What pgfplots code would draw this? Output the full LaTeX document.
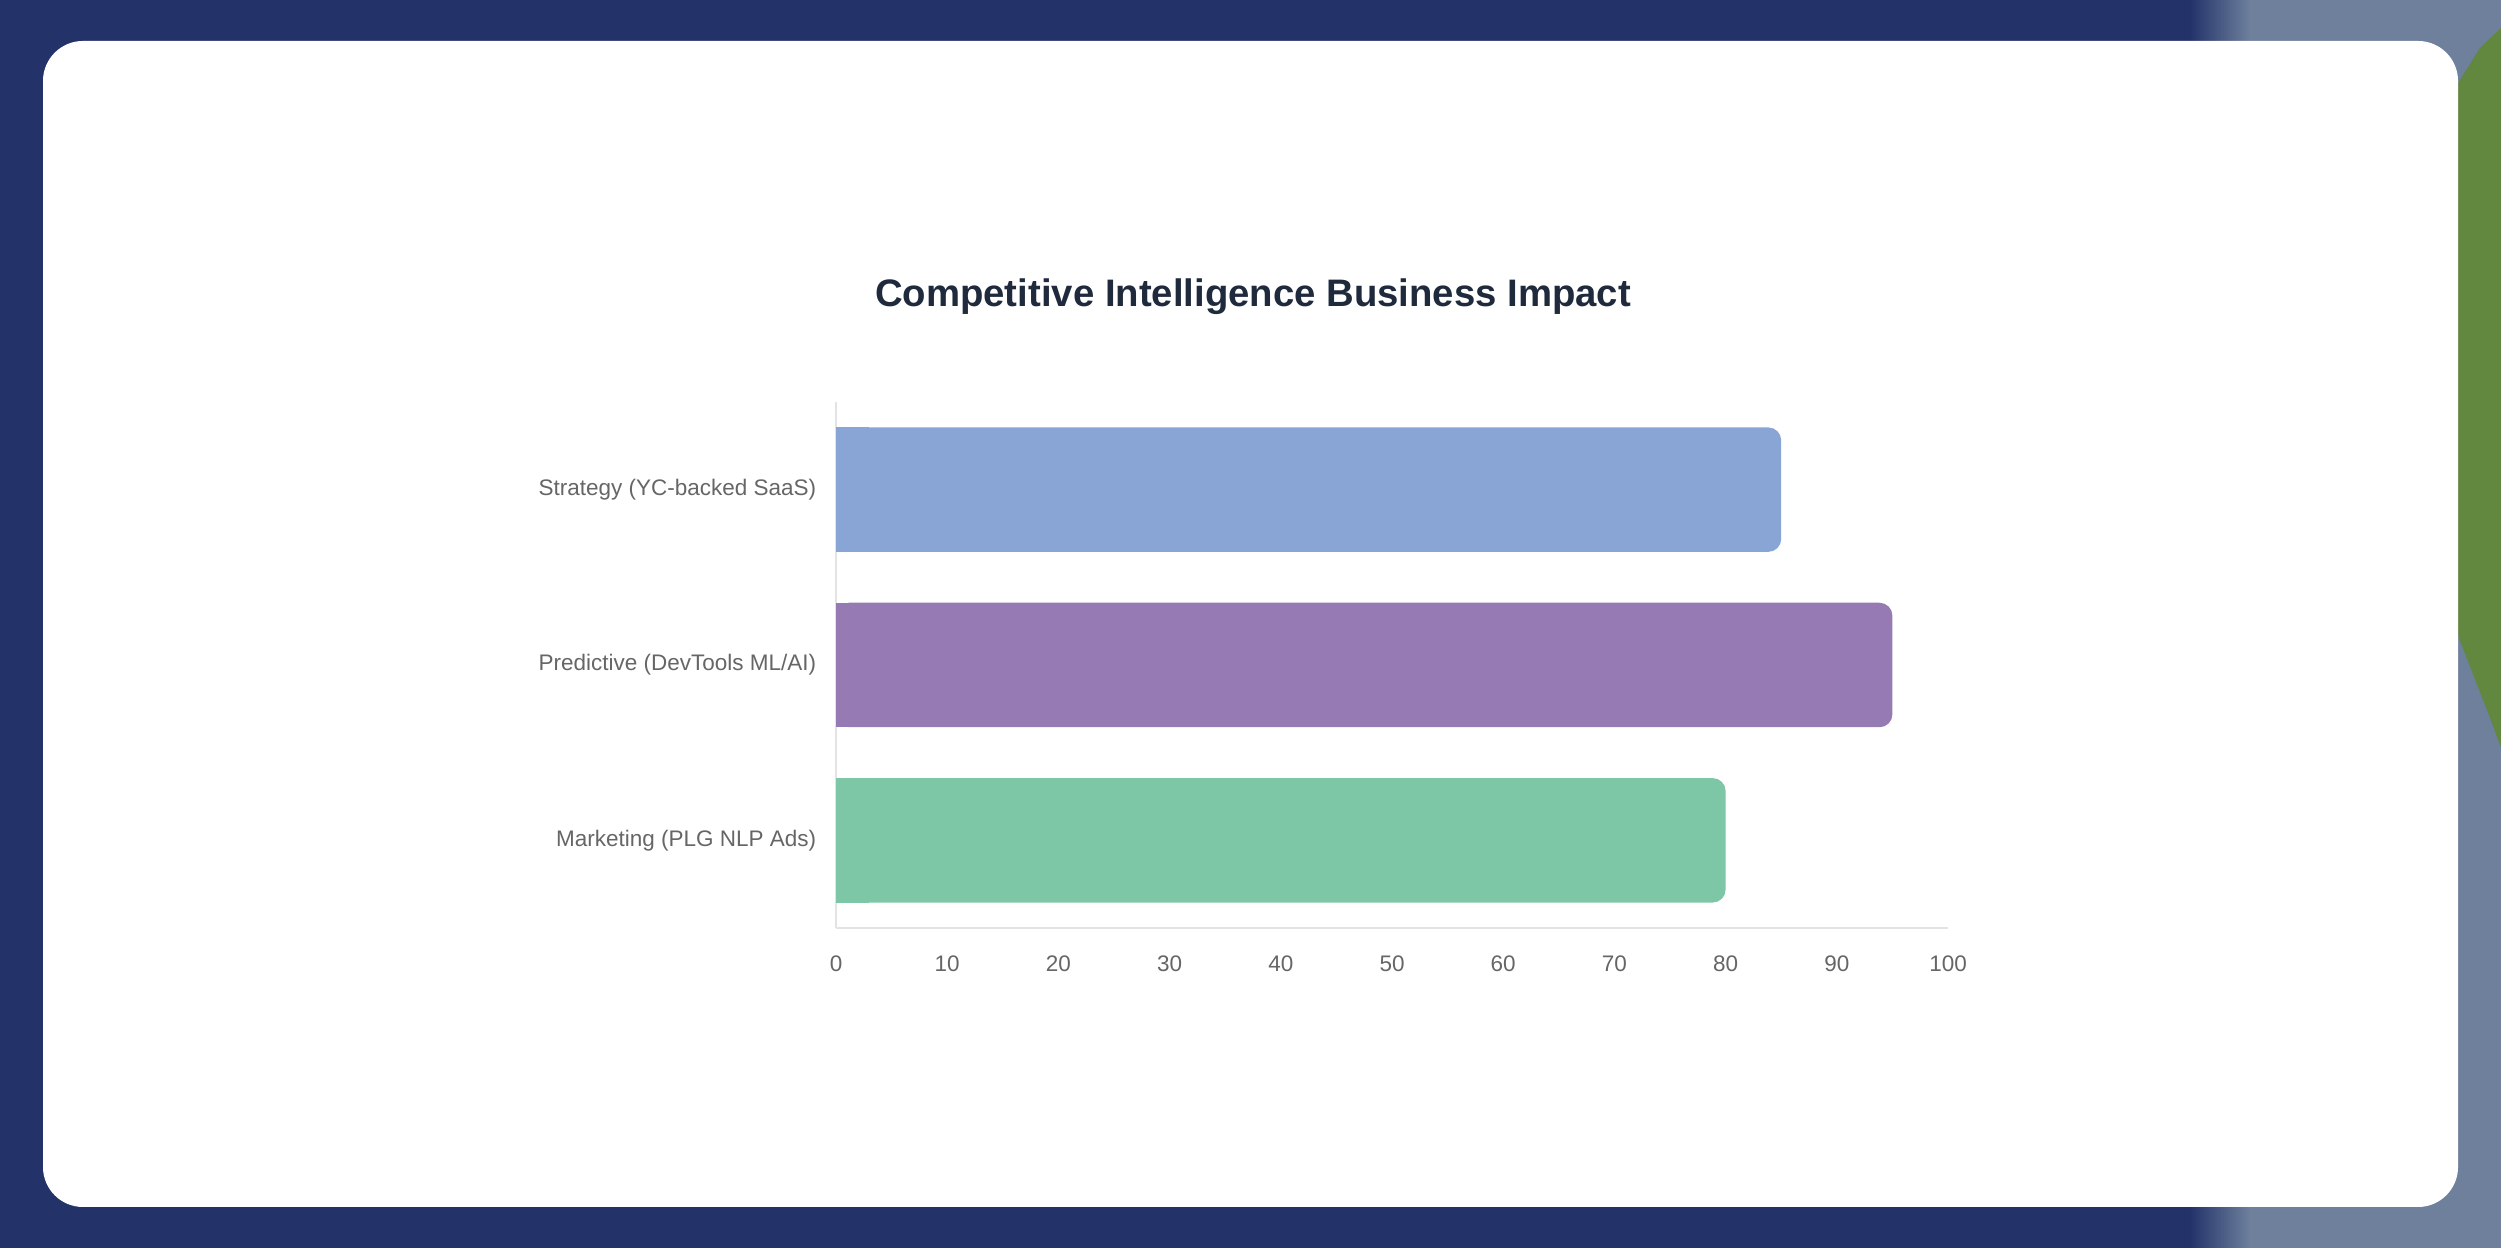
\documentclass[border=0pt]{standalone}
\usepackage{pgfplots}
\pgfplotsset{compat=1.18}
\usepackage{fontspec}
\setmainfont{Liberation Sans}
\definecolor{navy}{HTML}{23336A}
\definecolor{grayblue}{HTML}{6E809C}
\definecolor{leaf}{HTML}{62873F}
\definecolor{cStrat}{HTML}{89A5D5}
\definecolor{cPred}{HTML}{957AB4}
\definecolor{cMark}{HTML}{7DC6A6}
\definecolor{labelgray}{HTML}{666666}
\definecolor{titlecol}{HTML}{1F2A3C}
\definecolor{axisgray}{HTML}{E3E3E3}
\begin{document}
\begin{tikzpicture}[x=1cm,y=1cm]
% background screenshot frame
\fill[navy] (0,0) rectangle (25.01,12.48);
\shade[left color=navy, right color=grayblue] (21.9,0) rectangle (22.5,12.48);
\fill[grayblue] (22.5,0) rectangle (25.01,12.48);
\fill[leaf] (24.55,11.6) -- (24.8,12.0) -- (25.01,12.2) -- (25.01,5.0) -- (24.9,5.3) -- (24.55,6.2) -- cycle;
% white card
\fill[white, rounded corners=0.4cm] (0.43,0.41) rectangle (24.58,12.07);
% title
\node[font=\fontsize{10.9}{13}\selectfont\bfseries, text=titlecol] at (12.53,9.51) {Competitive Intelligence Business Impact};
\begin{axis}[
  at={(8.36cm,3.20cm)}, anchor=south west,
  scale only axis, width=11.12cm, height=5.26cm,
  xmin=0, xmax=100, ymin=-0.5, ymax=2.5,
  ytick={0,1,2},
  yticklabels={Marketing (PLG NLP Ads), Predictive (DevTools ML/AI), Strategy (YC-backed SaaS)},
  xtick={0,10,...,100},
  axis x line*=bottom, axis y line*=left,
  x axis line style={draw=axisgray, line width=0.6pt},
  y axis line style={draw=axisgray, line width=0.4pt},
  major tick length=0pt,
  tick label style={font=\fontsize{6.4}{8}\selectfont, text=labelgray},
  xticklabel style={yshift=-1.55mm},
  yticklabel style={xshift=-0.75mm},
  /pgf/number format/assume math mode=true,
]
% rounded bars with the full values
\addplot[xbar, bar width=0.71, bar shift=0pt, fill=cStrat, draw=none, rounded corners=1.3mm] coordinates {(85,2)};
\addplot[xbar, bar width=0.71, bar shift=0pt, fill=cPred, draw=none, rounded corners=1.3mm] coordinates {(95,1)};
\addplot[xbar, bar width=0.71, bar shift=0pt, fill=cMark, draw=none, rounded corners=1.3mm] coordinates {(80,0)};
% repaint the left corners square
\addplot[xbar, bar width=0.71, bar shift=0pt, fill=cStrat, draw=none] coordinates {(3,2)};
\addplot[xbar, bar width=0.71, bar shift=0pt, fill=cPred, draw=none] coordinates {(3,1)};
\addplot[xbar, bar width=0.71, bar shift=0pt, fill=cMark, draw=none] coordinates {(3,0)};
\end{axis}
\end{tikzpicture}
\end{document}
